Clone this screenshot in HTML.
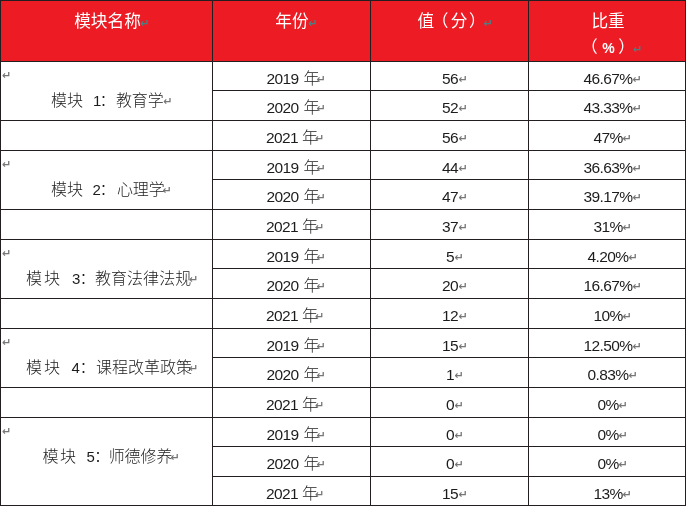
<!DOCTYPE html>
<html lang="zh-CN"><head><meta charset="utf-8"><title>table</title>
<style>
html,body{margin:0;padding:0;background:#fff;}
body{width:687px;height:508px;position:relative;overflow:hidden;
 font-family:"Liberation Sans","Noto Sans CJK SC",sans-serif;color:#1c1c1c;}
.l{position:absolute;background:#231f20;}
.hd{position:absolute;left:0;top:0;width:686px;height:62px;background:#ed1c24;}
.t{position:absolute;white-space:nowrap;text-align:center;font-size:16px;line-height:24px;height:24px;font-weight:300;letter-spacing:-0.13px;}
.h{color:#fff;font-size:16.67px;letter-spacing:0;font-weight:400;}
.n{font-size:15.5px;letter-spacing:-0.6px;font-weight:400;}
.g{display:inline-block;width:5px;}
.a{position:absolute;top:0;left:0;}
.d{font-size:15px;font-weight:400;letter-spacing:0;}
.p{display:inline-block;width:16.67px;text-align:center;font-size:14px;font-weight:700;letter-spacing:0;}
.pl{position:relative;left:-2.5px;}
.pr{position:relative;left:1.5px;}
.r{position:absolute;color:#777;font-size:11px;line-height:10px;font-family:"DejaVu Sans",sans-serif;font-weight:700;letter-spacing:0;}
.h .r{color:#4a8084;}
</style></head><body>
<div class="hd"></div>

<div class="l" style="left:0px;top:0px;width:686px;height:1px"></div>
<div class="l" style="left:0px;top:61px;width:686px;height:1px"></div>
<div class="l" style="left:212px;top:90px;width:474px;height:1px"></div>
<div class="l" style="left:0px;top:120px;width:686px;height:1px"></div>
<div class="l" style="left:0px;top:150px;width:686px;height:1px"></div>
<div class="l" style="left:212px;top:179px;width:474px;height:1px"></div>
<div class="l" style="left:0px;top:209px;width:686px;height:1px"></div>
<div class="l" style="left:0px;top:239px;width:686px;height:1px"></div>
<div class="l" style="left:212px;top:268px;width:474px;height:1px"></div>
<div class="l" style="left:0px;top:298px;width:686px;height:1px"></div>
<div class="l" style="left:0px;top:328px;width:686px;height:1px"></div>
<div class="l" style="left:212px;top:357px;width:474px;height:1px"></div>
<div class="l" style="left:0px;top:387px;width:686px;height:1px"></div>
<div class="l" style="left:0px;top:417px;width:686px;height:1px"></div>
<div class="l" style="left:212px;top:446px;width:474px;height:1px"></div>
<div class="l" style="left:212px;top:476px;width:474px;height:1px"></div>
<div class="l" style="left:0px;top:505px;width:686px;height:1px"></div>
<div class="l" style="left:0px;top:0;width:1px;height:506px"></div>
<div class="l" style="left:212px;top:0;width:1px;height:506px"></div>
<div class="l" style="left:370px;top:0;width:1px;height:506px"></div>
<div class="l" style="left:528px;top:0;width:1px;height:506px"></div>
<div class="l" style="left:685px;top:0;width:1px;height:506px"></div>
<div class="t h" style="left:7.5px;width:200px;top:10px;">模块名称<span class="r" style="margin-top:9.0px;margin-left:-0.5px">↵</span></div>
<div class="t h" style="left:192.0px;width:200px;top:10px;">年份<span class="r" style="margin-top:9.0px;margin-left:-0.5px">↵</span></div>
<div class="t h" style="left:350.8px;width:200px;top:10px;">值<span class="pl">（</span>分<span class="pr">）</span><span class="r" style="margin-top:9.0px;margin-left:-0.5px">↵</span></div>
<div class="t h" style="left:508.1px;width:200px;top:10px;">比重</div>
<div class="t h" style="left:508.5px;width:200px;top:36px;"><span class="pl">（</span><span class="p">%</span><span class="pr">）</span><span class="r" style="margin-top:9.0px;margin-left:-0.5px">↵</span></div>
<div class="t " style="left:193.0px;width:200px;top:67px;"><span class="n">2019</span><span class="g"> </span>年<span class="r" style="margin-top:8.0px;margin-left:-3.0px">↵</span></div>
<div class="t " style="left:350.1px;width:200px;top:67px;"><span class="n">56</span><span class="r" style="margin-top:8.0px;margin-left:0.5px">↵</span></div>
<div class="t " style="left:508.0px;width:200px;top:67px;"><span class="n">46.67%</span><span class="r" style="margin-top:8.0px;margin-left:0.0px">↵</span></div>
<div class="t " style="left:193.0px;width:200px;top:96px;"><span class="n">2020</span><span class="g"> </span>年<span class="r" style="margin-top:8.0px;margin-left:-3.0px">↵</span></div>
<div class="t " style="left:350.1px;width:200px;top:96px;"><span class="n">52</span><span class="r" style="margin-top:8.0px;margin-left:0.5px">↵</span></div>
<div class="t " style="left:508.0px;width:200px;top:96px;"><span class="n">43.33%</span><span class="r" style="margin-top:8.0px;margin-left:0.0px">↵</span></div>
<div class="t " style="left:192.0px;width:200px;top:126px;"><span class="n">2021</span><span class="g" style="width:4px"> </span>年<span class="r" style="margin-top:8.0px;margin-left:-3.0px">↵</span></div>
<div class="t " style="left:350.1px;width:200px;top:126px;"><span class="n">56</span><span class="r" style="margin-top:8.0px;margin-left:0.5px">↵</span></div>
<div class="t " style="left:508.0px;width:200px;top:126px;"><span class="n">47%</span><span class="r" style="margin-top:8.0px;margin-left:0.0px">↵</span></div>
<div class="t " style="left:193.0px;width:200px;top:156px;"><span class="n">2019</span><span class="g"> </span>年<span class="r" style="margin-top:8.0px;margin-left:-3.0px">↵</span></div>
<div class="t " style="left:350.1px;width:200px;top:156px;"><span class="n">44</span><span class="r" style="margin-top:8.0px;margin-left:0.5px">↵</span></div>
<div class="t " style="left:508.0px;width:200px;top:156px;"><span class="n">36.63%</span><span class="r" style="margin-top:8.0px;margin-left:0.0px">↵</span></div>
<div class="t " style="left:193.0px;width:200px;top:185px;"><span class="n">2020</span><span class="g"> </span>年<span class="r" style="margin-top:8.0px;margin-left:-3.0px">↵</span></div>
<div class="t " style="left:350.1px;width:200px;top:185px;"><span class="n">47</span><span class="r" style="margin-top:8.0px;margin-left:0.5px">↵</span></div>
<div class="t " style="left:508.0px;width:200px;top:185px;"><span class="n">39.17%</span><span class="r" style="margin-top:8.0px;margin-left:0.0px">↵</span></div>
<div class="t " style="left:192.0px;width:200px;top:215px;"><span class="n">2021</span><span class="g" style="width:4px"> </span>年<span class="r" style="margin-top:8.0px;margin-left:-3.0px">↵</span></div>
<div class="t " style="left:350.1px;width:200px;top:215px;"><span class="n">37</span><span class="r" style="margin-top:8.0px;margin-left:0.5px">↵</span></div>
<div class="t " style="left:508.0px;width:200px;top:215px;"><span class="n">31%</span><span class="r" style="margin-top:8.0px;margin-left:0.0px">↵</span></div>
<div class="t " style="left:193.0px;width:200px;top:245px;"><span class="n">2019</span><span class="g"> </span>年<span class="r" style="margin-top:8.0px;margin-left:-3.0px">↵</span></div>
<div class="t " style="left:350.1px;width:200px;top:245px;"><span class="n">5</span><span class="r" style="margin-top:8.0px;margin-left:0.5px">↵</span></div>
<div class="t " style="left:508.0px;width:200px;top:245px;"><span class="n">4.20%</span><span class="r" style="margin-top:8.0px;margin-left:0.0px">↵</span></div>
<div class="t " style="left:193.0px;width:200px;top:274px;"><span class="n">2020</span><span class="g"> </span>年<span class="r" style="margin-top:8.0px;margin-left:-3.0px">↵</span></div>
<div class="t " style="left:350.1px;width:200px;top:274px;"><span class="n">20</span><span class="r" style="margin-top:8.0px;margin-left:0.5px">↵</span></div>
<div class="t " style="left:508.0px;width:200px;top:274px;"><span class="n">16.67%</span><span class="r" style="margin-top:8.0px;margin-left:0.0px">↵</span></div>
<div class="t " style="left:192.0px;width:200px;top:304px;"><span class="n">2021</span><span class="g" style="width:4px"> </span>年<span class="r" style="margin-top:8.0px;margin-left:-3.0px">↵</span></div>
<div class="t " style="left:350.1px;width:200px;top:304px;"><span class="n">12</span><span class="r" style="margin-top:8.0px;margin-left:0.5px">↵</span></div>
<div class="t " style="left:508.0px;width:200px;top:304px;"><span class="n">10%</span><span class="r" style="margin-top:8.0px;margin-left:0.0px">↵</span></div>
<div class="t " style="left:193.0px;width:200px;top:334px;"><span class="n">2019</span><span class="g"> </span>年<span class="r" style="margin-top:8.0px;margin-left:-3.0px">↵</span></div>
<div class="t " style="left:350.1px;width:200px;top:334px;"><span class="n">15</span><span class="r" style="margin-top:8.0px;margin-left:0.5px">↵</span></div>
<div class="t " style="left:508.0px;width:200px;top:334px;"><span class="n">12.50%</span><span class="r" style="margin-top:8.0px;margin-left:0.0px">↵</span></div>
<div class="t " style="left:193.0px;width:200px;top:363px;"><span class="n">2020</span><span class="g"> </span>年<span class="r" style="margin-top:8.0px;margin-left:-3.0px">↵</span></div>
<div class="t " style="left:350.1px;width:200px;top:363px;"><span class="n">1</span><span class="r" style="margin-top:8.0px;margin-left:0.5px">↵</span></div>
<div class="t " style="left:508.0px;width:200px;top:363px;"><span class="n">0.83%</span><span class="r" style="margin-top:8.0px;margin-left:0.0px">↵</span></div>
<div class="t " style="left:192.0px;width:200px;top:393px;"><span class="n">2021</span><span class="g" style="width:4px"> </span>年<span class="r" style="margin-top:8.0px;margin-left:-3.0px">↵</span></div>
<div class="t " style="left:350.1px;width:200px;top:393px;"><span class="n">0</span><span class="r" style="margin-top:8.0px;margin-left:0.5px">↵</span></div>
<div class="t " style="left:508.0px;width:200px;top:393px;"><span class="n">0%</span><span class="r" style="margin-top:8.0px;margin-left:0.0px">↵</span></div>
<div class="t " style="left:193.0px;width:200px;top:423px;"><span class="n">2019</span><span class="g"> </span>年<span class="r" style="margin-top:8.0px;margin-left:-3.0px">↵</span></div>
<div class="t " style="left:350.1px;width:200px;top:423px;"><span class="n">0</span><span class="r" style="margin-top:8.0px;margin-left:0.5px">↵</span></div>
<div class="t " style="left:508.0px;width:200px;top:423px;"><span class="n">0%</span><span class="r" style="margin-top:8.0px;margin-left:0.0px">↵</span></div>
<div class="t " style="left:193.0px;width:200px;top:452px;"><span class="n">2020</span><span class="g"> </span>年<span class="r" style="margin-top:8.0px;margin-left:-3.0px">↵</span></div>
<div class="t " style="left:350.1px;width:200px;top:452px;"><span class="n">0</span><span class="r" style="margin-top:8.0px;margin-left:0.5px">↵</span></div>
<div class="t " style="left:508.0px;width:200px;top:452px;"><span class="n">0%</span><span class="r" style="margin-top:8.0px;margin-left:0.0px">↵</span></div>
<div class="t " style="left:192.0px;width:200px;top:482px;"><span class="n">2021</span><span class="g" style="width:4px"> </span>年<span class="r" style="margin-top:8.0px;margin-left:-3.0px">↵</span></div>
<div class="t " style="left:350.1px;width:200px;top:482px;"><span class="n">15</span><span class="r" style="margin-top:8.0px;margin-left:0.5px">↵</span></div>
<div class="t " style="left:508.0px;width:200px;top:482px;"><span class="n">13%</span><span class="r" style="margin-top:8.0px;margin-left:0.0px">↵</span></div>
<div class="t" style="left:2px;top:61px;text-align:left"><span class="r" style="margin-top:9.5px;margin-left:0.0px">↵</span></div>
<div class="t" style="left:0;top:89px;width:212px;text-align:left"><span class="a" style="left:50.9px;">模</span><span class="a" style="left:67.0px;">块</span> <span class="a d" style="left:93.0px;">1</span><span class="a" style="left:99.4px;">：</span><span class="a" style="left:116.0px;letter-spacing:-0.15px;">教育学</span><span class="r" style="left:163.2px;margin-top:8px">↵</span></div>
<div class="t" style="left:2px;top:150px;text-align:left"><span class="r" style="margin-top:9.5px;margin-left:0.0px">↵</span></div>
<div class="t" style="left:0;top:178px;width:212px;text-align:left"><span class="a" style="left:51.1px;">模</span><span class="a" style="left:67.0px;">块</span> <span class="a d" style="left:92.6px;">2</span><span class="a" style="left:99.6px;">：</span><span class="a" style="left:117.0px;letter-spacing:-0.15px;">心理学</span><span class="r" style="left:162.4px;margin-top:8px">↵</span></div>
<div class="t" style="left:2px;top:239px;text-align:left"><span class="r" style="margin-top:9.5px;margin-left:0.0px">↵</span></div>
<div class="t" style="left:0;top:267px;width:212px;text-align:left"><span class="a" style="left:25.9px;">模</span><span class="a" style="left:43.9px;">块</span> <span class="a d" style="left:72.0px;">3</span><span class="a" style="left:79.4px;">：</span><span class="a" style="left:95.0px;letter-spacing:0.04px;">教育法律法规</span><span class="r" style="left:189.0px;margin-top:8px">↵</span></div>
<div class="t" style="left:2px;top:328px;text-align:left"><span class="r" style="margin-top:9.5px;margin-left:0.0px">↵</span></div>
<div class="t" style="left:0;top:356px;width:212px;text-align:left"><span class="a" style="left:25.9px;">模</span><span class="a" style="left:43.9px;">块</span> <span class="a d" style="left:71.5px;">4</span><span class="a" style="left:79.4px;">：</span><span class="a" style="left:95.9px;letter-spacing:0.04px;">课程改革政策</span><span class="r" style="left:189.0px;margin-top:8px">↵</span></div>
<div class="t" style="left:2px;top:417px;text-align:left"><span class="r" style="margin-top:9.5px;margin-left:0.0px">↵</span></div>
<div class="t" style="left:0;top:445px;width:212px;text-align:left"><span class="a" style="left:42.6px;">模</span><span class="a" style="left:59.9px;">块</span> <span class="a d" style="left:86.4px;">5</span><span class="a" style="left:94.0px;">：</span><span class="a" style="left:108.7px;letter-spacing:-0.10px;">师德修养</span><span class="r" style="left:170.5px;margin-top:8px">↵</span></div>
</body></html>
